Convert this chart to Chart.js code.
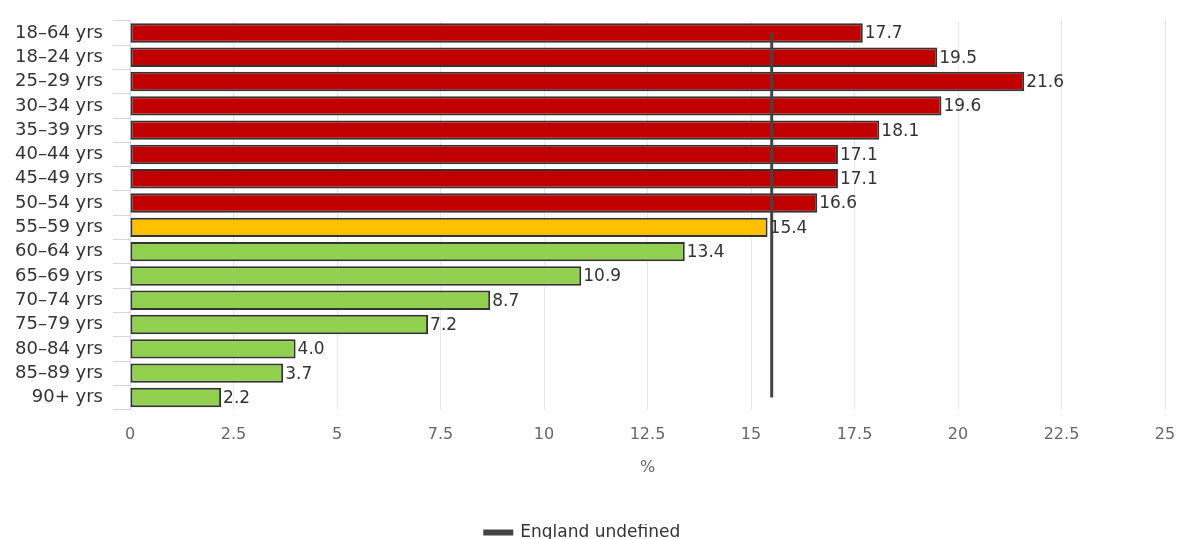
<!DOCTYPE html>
<html>
<head>
<meta charset="utf-8">
<script src="https://cdn.jsdelivr.net/npm/chart.js@4/dist/chart.umd.min.js"></script>
<style>
  html, body { margin: 0; padding: 0; background: #fff; }
  #wrap { width: 1179px; height: 539px; }
</style>
</head>
<body>
<div id="wrap"><canvas id="chart"></canvas></div>
<script>
// age bands, top to bottom
const ageBands = ["18\u201364 yrs", "18\u201324 yrs", "25\u201329 yrs", "30\u201334 yrs", "35\u201339 yrs",
    "40\u201344 yrs", "45\u201349 yrs", "50\u201354 yrs", "55\u201359 yrs", "60\u201364 yrs", "65\u201369 yrs",
    "70\u201374 yrs", "75\u201379 yrs", "80\u201384 yrs", "85\u201389 yrs", "90+ yrs"];
const areaValues = [17.7, 19.5, 21.6, 19.6, 18.1, 17.1, 17.1, 16.6, 15.4, 13.4, 10.9, 8.7, 7.2, 4.0, 3.7, 2.2];
// compared with England
const comparison = ["higher", "higher", "higher", "higher", "higher", "higher", "higher", "higher",
    "similar", "lower", "lower", "lower", "lower", "lower", "lower", "lower"];
const englandValues = [15.5, 15.5, 15.5, 15.5, 15.5, 15.5, 15.5, 15.5, 15.5, 15.5, 15.5, 15.5, 15.5, 15.5, 15.5, 15.5];
const xTicks = [0, 2.5, 5, 7.5, 10, 12.5, 15, 17.5, 20, 22.5, 25];

const compColours = { higher: "#c00000", similar: "#ffc000", lower: "#92d050" };
const FONT = "'DejaVu Sans', Verdana, sans-serif";

// value labels at the end of each bar
const barLabels = {
    id: "barLabels",
    afterDatasetsDraw(chart) {
        const ctx = chart.ctx;
        const meta = chart.getDatasetMeta(1);
        ctx.save();
        ctx.font = "17px " + FONT;
        ctx.fillStyle = "#333";
        ctx.textBaseline = "middle";
        ctx.textAlign = "left";
        meta.data.forEach((bar, i) => {
            ctx.fillText(areaValues[i].toFixed(1), bar.x + 2, bar.y + 1);
        });
        ctx.restore();
    }
};

new Chart(document.getElementById("chart"), {
    type: "bar",
    data: {
        labels: ageBands,
        datasets: [
            {
                type: "line",
                label: "England undefined",
                indexAxis: "y",
                data: englandValues,
                borderColor: "#444",
                backgroundColor: "#444",
                borderWidth: 3,
                pointRadius: 0,
                order: 0
            },
            {
                label: "Area",
                data: areaValues,
                backgroundColor: comparison.map(c => compColours[c]),
                borderColor: "#333",
                borderWidth: 2,
                borderSkipped: false,
                categoryPercentage: 1,
                barPercentage: 0.8,
                order: 1
            }
        ]
    },
    options: {
        indexAxis: "y",
        responsive: true,
        maintainAspectRatio: false,
        animation: false,
        layout: { padding: { top: 12, right: 14, left: 0, bottom: -12 } },
        scales: {
            x: {
                min: 0,
                max: 25,
                afterBuildTicks: (scale) => { scale.ticks = xTicks.map(v => ({ value: v })); },
                afterFit: (scale) => { scale.paddingLeft = 0; scale.paddingRight = 0; },
                grid: { color: "#e6e6e6", drawTicks: false },
                border: { display: false },
                ticks: { color: "#666", font: { family: FONT, size: 16 }, padding: 16, maxRotation: 0 },
                title: { display: true, text: "%", color: "#666", font: { family: FONT, size: 16 }, padding: { top: -3, bottom: 47 } }
            },
            y: {
                afterFit: (scale) => { scale.width = 130; },
                grid: { offset: true, drawOnChartArea: false, drawTicks: true, tickLength: 17, color: "#ccd6eb" },
                border: { display: true, color: "#ccd6eb" },
                ticks: { color: "#333", font: { family: FONT, size: 18 }, padding: 10, autoSkip: false }
            }
        },
        plugins: {
            legend: {
                position: "bottom",
                labels: {
                    filter: (item) => item.datasetIndex === 0,
                    boxWidth: 27,
                    boxHeight: 3,
                    color: "#333",
                    font: { family: FONT, size: 17 },
                    padding: 0
                }
            },
            tooltip: { enabled: false }
        }
    },
    plugins: [barLabels]
});
</script>
</body>
</html>
